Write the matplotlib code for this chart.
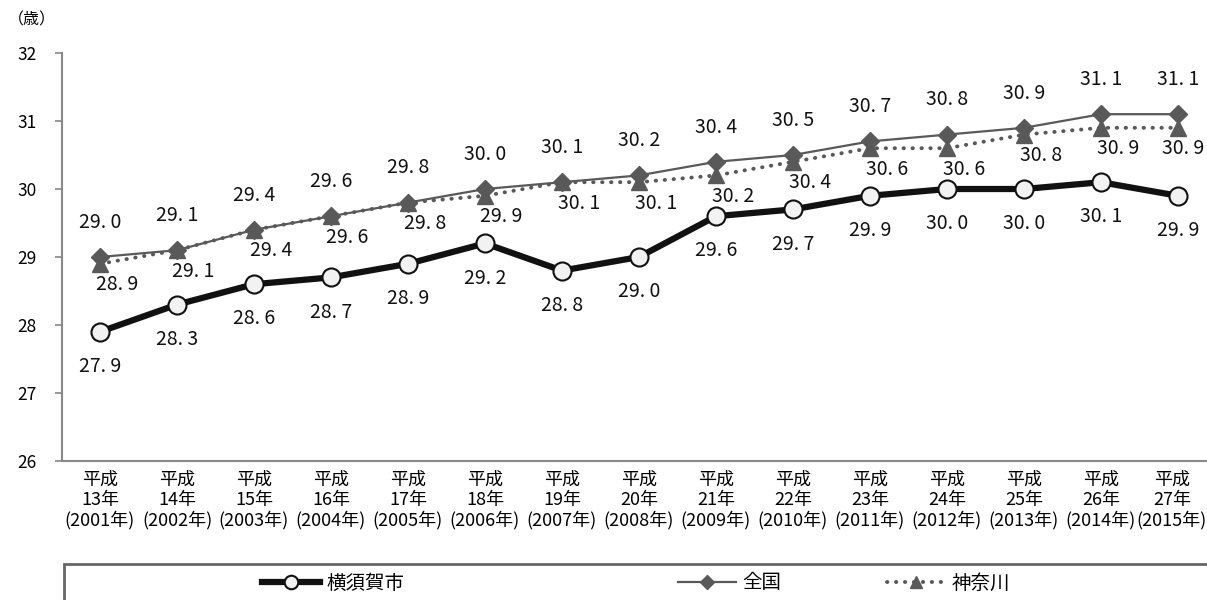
import numpy as np
import matplotlib
matplotlib.use("Agg")
import matplotlib.pyplot as plt
from matplotlib.patches import Rectangle
from matplotlib.transforms import ScaledTranslation

plt.rcParams['font.family'] = ['Noto Sans CJK JP', 'DejaVu Sans']

# data
years_jp = ['13', '14', '15', '16', '17', '18', '19', '20', '21', '22', '23', '24', '25', '26', '27']
years_ad = ['2001', '2002', '2003', '2004', '2005', '2006', '2007', '2008',
            '2009', '2010', '2011', '2012', '2013', '2014', '2015']
yokosuka = [27.9, 28.3, 28.6, 28.7, 28.9, 29.2, 28.8, 29.0, 29.6, 29.7, 29.9, 30.0, 30.0, 30.1, 29.9]
zenkoku = [29.0, 29.1, 29.4, 29.6, 29.8, 30.0, 30.1, 30.2, 30.4, 30.5, 30.7, 30.8, 30.9, 31.1, 31.1]
kanagawa = [28.9, 29.1, 29.4, 29.6, 29.8, 29.9, 30.1, 30.1, 30.2, 30.4, 30.6, 30.6, 30.8, 30.9, 30.9]
series_names = ['横須賀市', '全国', '神奈川']

W, H = 1207, 600
fig = plt.figure(figsize=(W / 100, H / 100), dpi=100)
ax = fig.add_axes([61.5 / W, 1 - 461 / H, 1155 / W, (461 - 53) / H])

x = np.arange(len(years_jp))
grey = '#595959'

ln_zen, = ax.plot(x, zenkoku, color=grey, lw=1.6, marker='D', markersize=9,
                  markerfacecolor=grey, markeredgecolor=grey, zorder=3)
ln_kan, = ax.plot(x, kanagawa, color=grey, lw=2.8, linestyle=(0, (0.1, 2.2)),
                  dash_capstyle='round', marker='^', markersize=11,
                  markerfacecolor=grey, markeredgecolor=grey, zorder=4)
ln_yok, = ax.plot(x, yokosuka, color='#111111', lw=4.5, marker='o', markersize=13,
                  markerfacecolor='#f2f2f2', markeredgecolor='#111111',
                  markeredgewidth=1.5, zorder=5)

def fmt(v):
    return '{:.1f}'.format(v).replace('.', '. ')

for xi, v in zip(x, zenkoku):
    ax.annotate(fmt(v), (xi, v), xytext=(0, 25), textcoords='offset points',
                ha='center', va='center', fontsize=14, color='#111111')
for xi, v in zip(x, kanagawa):
    if xi == x[-1]:
        ax.annotate(fmt(v), (xi, v), xytext=(19, -15), textcoords='offset points',
                    ha='right', va='center', fontsize=14, color='#111111')
    else:
        ax.annotate(fmt(v), (xi, v), xytext=(12, -15), textcoords='offset points',
                    ha='center', va='center', fontsize=14, color='#111111')
for xi, v in zip(x, yokosuka):
    ax.annotate(fmt(v), (xi, v), xytext=(0, -25), textcoords='offset points',
                ha='center', va='center', fontsize=14, color='#111111')

ax.set_xlim(-0.5, len(x) - 0.5)
ax.set_ylim(26, 32)
ax.set_yticks(range(26, 33))
ax.set_xticks(x)
ax.set_xticklabels(['平成\n{}年\n({}年)'.format(a, b) for a, b in zip(years_jp, years_ad)],
                   fontsize=13, linespacing=1.15)

for s in ['top', 'right']:
    ax.spines[s].set_visible(False)
for s in ['left', 'bottom']:
    ax.spines[s].set_color('#888888')
    ax.spines[s].set_linewidth(1.5)
ax.tick_params(axis='y', direction='out', length=5, width=1.2, color='#888888',
               labelsize=12.5, pad=13)
ax.tick_params(axis='x', length=0, pad=7)

# the last label sits against the right edge of the picture
last = ax.xaxis.get_major_ticks()[-1].label1
last.set_transform(last.get_transform() + ScaledTranslation(-6 / 100, 0, fig.dpi_scale_trans))

fig.text(8 / W, 1 - 20 / H, '（歳）', fontsize=11.5, va='center', ha='left')

# legend box
fig.patches.append(Rectangle((64 / W, -0.1), 1.2, 0.1 + 1 - 564 / H, transform=fig.transFigure,
                             fill=False, edgecolor='#666666', lw=2))
for ln, name, px in zip([ln_yok, ln_zen, ln_kan], series_names, [262, 678, 887]):
    fig.legend([ln], [name], loc='center left', bbox_to_anchor=(px / W, 1 - 583 / H),
               frameon=False, fontsize=14, borderpad=0, borderaxespad=0,
               handlelength=3.0, handletextpad=0.3, markerscale=0.75)

fig.savefig('out.png', dpi=100)
